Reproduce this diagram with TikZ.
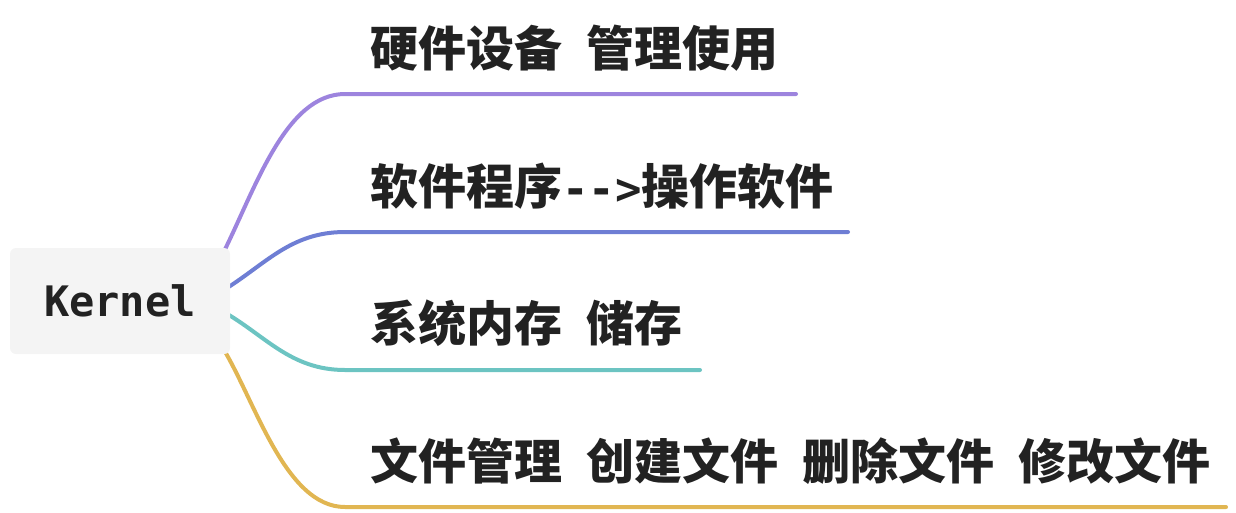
\documentclass[tikz,border=0pt]{standalone}
\usepackage{fontspec}
\setmonofont{DejaVu Sans Mono}
\newfontfamily\cjk{Noto Sans CJK SC}
\usepackage{xcolor}
\usetikzlibrary{backgrounds}
\definecolor{ink}{RGB}{34,34,34}
\definecolor{rootgray}{RGB}{244,244,244}
\definecolor{lilac}{RGB}{157,132,222}
\definecolor{cornflower}{RGB}{110,126,212}
\definecolor{tealish}{RGB}{108,196,194}
\definecolor{mustard}{RGB}{225,182,82}
\newcommand{\gap}{\hspace{.5em}}
\newcommand{\arrowtext}{{\ttfamily\fontsize{44}{48}\selectfont-{}-{}>}}

\begin{document}
\begin{tikzpicture}[x=1pt, y=-1pt,
  every node/.style={inner sep=0pt},
  root/.style={fill=rootgray, rounded corners=6pt, minimum width=220pt,
               minimum height=106pt, text=ink,
               font=\ttfamily\bfseries\fontsize{42}{44}\selectfont},
  topic/.style={anchor=base west, text=ink,
                font=\cjk\bfseries\fontsize{48}{50}\selectfont},
  branch/.style={line width=4pt, line cap=round}]
\useasboundingbox (0,0) rectangle (1236,512);
\node[root] (kernel) at (120,301) {Kernel};

\node[topic] (hw) at (370,66) {硬件设备\gap 管理使用};
\node[topic] (sw) at (370,204) {软件程序\arrowtext 操作软件};
\node[topic] (mem) at (370,341) {系统内存\gap 储存};
\node[topic] (fs) at (370,479)
  {文件管理\gap 创建文件\gap 删除文件\gap 修改文件};

\coordinate (hwend) at (796,94);
\coordinate (swend) at (848,232);
\coordinate (memend) at (700,370);
\coordinate (fsend) at (1226,507);

% branches run behind the root box
\begin{scope}[on background layer]
\draw[branch, lilac] ([xshift=-8pt, yshift=46pt]kernel.east)
  .. controls (255,190) and (285,94) .. (345,94) -- (hwend);
\draw[branch, cornflower] ([xshift=-8pt, yshift=10pt]kernel.east)
  .. controls (265,265) and (290,232) .. (345,232) -- (swend);
\draw[branch, tealish] ([xshift=-8pt, yshift=-10pt]kernel.east)
  .. controls (265,335) and (290,370) .. (345,370) -- (memend);
\draw[branch, mustard] ([xshift=-8pt, yshift=-46pt]kernel.east)
  .. controls (255,400) and (285,507) .. (345,507) -- (fsend);
\end{scope}
\end{tikzpicture}
\end{document}
